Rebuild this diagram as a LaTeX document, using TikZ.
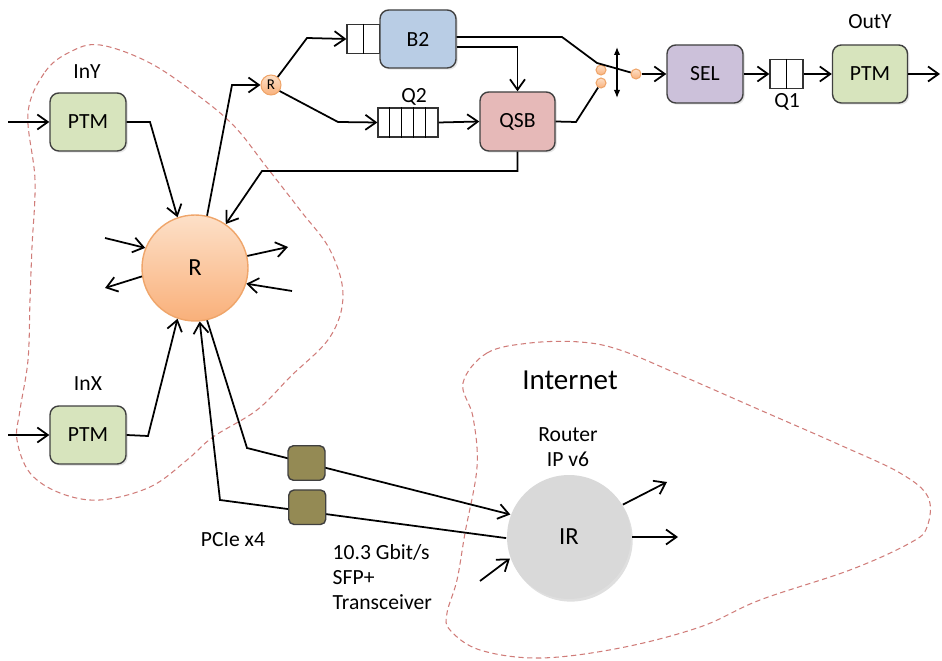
\documentclass[tikz,border=0pt]{standalone}
\usepackage{fontspec}
\setmainfont{Carlito}
\usetikzlibrary{calc,arrows.meta,shadows}

\definecolor{ptmgreen}{HTML}{D7E4BD}
\definecolor{b2blue}{HTML}{B9CDE5}
\definecolor{qsbred}{HTML}{E6B9B8}
\definecolor{selviolet}{HTML}{CCC1DA}
\definecolor{trxolive}{HTML}{948A54}
\definecolor{rtop}{HTML}{FDE0C8}
\definecolor{rbot}{HTML}{F9B07A}
\definecolor{rline}{HTML}{EFA56A}
\definecolor{irgray}{HTML}{D9D9D9}
\definecolor{cloudred}{HTML}{C0504D}

\begin{document}
\begin{tikzpicture}[x=0.02cm,y=-0.02cm,line width=1pt,>={Straight Barb[length=2.1mm,width=3mm]},
  font=\fontsize{12.3}{14.2}\selectfont,
  blk/.style={draw=black!75,line width=0.8pt,rounded corners=5pt,minimum width=1.52cm,minimum height=1.16cm,
    drop shadow={shadow xshift=1pt,shadow yshift=-1pt,opacity=0.2}},
  que/.style={draw=black!80,line width=0.7pt,fill=white,minimum height=0.58cm,inner sep=0pt},
  ball/.style={circle,draw=rline,line width=0.6pt,top color=rtop,bottom color=rbot,inner sep=0pt},
  trx/.style={draw=black!75,line width=0.8pt,rounded corners=3pt,fill=trxolive,minimum width=0.74cm,minimum height=0.69cm,inner sep=0pt},
  cloud/.style={draw=cloudred!75,line width=0.6pt,dash pattern=on 3pt off 2pt}]
  \useasboundingbox (0,0) rectangle (942,661);

  \draw[cloud] plot[smooth cycle,tension=0.6] coordinates {(28,113)(45,72)(70,52)(100,45)(150,63)(200,97)(235,127)(265,165)(300,210)
    (330,250)(343,295)(330,337)(290,377)(257,410)(213,437)(187,460)(150,487)(100,500)(60,493)(30,473)(17,440)(20,410)
    (28,360)(30,300)(32,247)(35,180)};
  \draw[cloud] plot[smooth cycle,tension=0.6] coordinates {(463,383)(487,353)(530,343)(580,342)(620,350)(680,375)(760,410)
    (840,445)(900,473)(928,497)(927,527)(910,543)(850,570)(760,600)(700,627)(620,648)(540,658)(480,650)(450,630)(447,613)
    (457,580)(465,533)(477,467)(473,417)};

  \node[blk,fill=ptmgreen] (ptmY) at (88,122) {PTM};
  \node (lInY) at (87,72) {InY};
  \node[blk,fill=ptmgreen] (ptmX) at (88,435) {PTM};
  \node (lInX) at (88,384) {InX};
  \node[ball,minimum size=2.12cm,line width=0.8pt,font=\fontsize{14}{16}\selectfont] (R) at (195,268) {R};
  \node[ball,minimum size=0.4cm,font=\fontsize{8.5}{9}\selectfont] (rs) at (271,85) {R};

  \node[que,minimum width=0.66cm] (qb2) at (363.5,39) {};
  \draw[line width=0.7pt] (qb2.north) -- (qb2.south);
  \node[blk,fill=b2blue] (b2) at (418,39) {B2};
  \node[que,minimum width=1.2cm] (q2) at (408,122.5) {};
  \foreach \i in {1,...,4}
    \draw[line width=0.7pt] ($(q2.north west)+(12*\i,0)$) -- ($(q2.south west)+(12*\i,0)$);
  \node (lQ2) at (414,97) {Q2};
  \node[blk,fill=qsbred,minimum width=1.5cm,minimum height=1.18cm] (qsb) at (517.5,121.5) {QSB};

  \node[ball,minimum size=0.2cm] (d1) at (601,70) {};
  \node[ball,minimum size=0.2cm] (d2) at (601,83) {};
  \node[ball,minimum size=0.2cm] (d3) at (636,74) {};
  \node[blk,fill=selviolet] (sel) at (705,74) {SEL};
  \node[que,minimum width=0.66cm] (q1) at (786.5,74) {};
  \draw[line width=0.7pt] (q1.north) -- (q1.south);
  \node (lQ1) at (787,102) {Q1};
  \node[blk,fill=ptmgreen,minimum width=1.5cm] (ptmO) at (870,74) {PTM};
  \node (lOutY) at (870,22) {OutY};

  \node[circle,fill=irgray,minimum size=2.48cm,font=\fontsize{14}{16}\selectfont,
    drop shadow={shadow xshift=1pt,shadow yshift=-1.5pt,opacity=0.25}] (IR) at (569,537) {IR};
  \node[align=center] (lRouter) at (568,447) {Router\\IP v6};
  \node[font=\fontsize{16.5}{19}\selectfont] (lNet) at (570,380) {Internet};
  \node (lPci) at (233,540) {PCIe x4};
  \node[align=left,anchor=west] (lTrx) at (326,577) {10.3 Gbit/s\\SFP+\\Transceiver};

  \coordinate (inY) at (8,122);
  \coordinate (kY) at (150,122);
  \coordinate (kRs) at (232,85);
  \coordinate (kB2) at (307,38);
  \coordinate (kQ2) at (338,122);
  \coordinate (kUp) at (562,37);
  \coordinate (sw) at (597,63);
  \coordinate (kLow) at (576,122);
  \coordinate (swT) at (617,47);
  \coordinate (swB) at (617,98);
  \coordinate (outY) at (940,74);
  \coordinate (kFb) at (262,171);
  \coordinate (inX) at (8,435);
  \coordinate (kX) at (148,436);
  \coordinate (kT1) at (247,448);
  \coordinate (kT2) at (220,500);
  \coordinate (sA) at (105,238);
  \coordinate (sB) at (105,288);
  \coordinate (sC) at (288,247);
  \coordinate (sD) at (292,291);
  \coordinate (iA) at (667,482);
  \coordinate (iB) at (678,537);
  \coordinate (iC) at (480,581);

  \draw[->] (inY) -- (ptmY.west);
  \draw[->] (ptmY.east) -- (kY) -- (R.109);
  \draw[->] (R.77) -- (kRs) -- (rs.west);
  \draw[->] (rs.50) -- (kB2) -- (qb2.west);
  \draw[->] (rs.-35) -- (kQ2) -- (q2.west);
  \draw[->] (q2.east) -- (qsb.west);
  \draw[->] ($(b2.east)+(0,8)$) -| (qsb.north);
  \draw ($(b2.east)+(0,-2)$) -- (kUp) -- (sw) -- (d3);
  \draw (qsb.east) -- (kLow) -- (d2);
  \draw[{Latex[length=1.6mm,width=1.3mm]}-{Latex[length=1.6mm,width=1.3mm]},line width=0.8pt] (swT) -- (swB);
  \draw[->] (d3) -- (sel.west);
  \draw[->] (sel.east) -- (q1.west);
  \draw[->] (q1.east) -- (ptmO.west);
  \draw[->] (ptmO.east) -- (outY);
  \draw[->] (qsb.south) |- (kFb) -- (R.55);

  \draw[->] (sA) -- (R.158);
  \draw[->] (R.189) -- (sB);
  \draw[->] (R.13) -- (sC);
  \draw[->] (sD) -- (R.-17);

  \draw[->] (inX) -- (ptmX.west);
  \draw[->] (ptmX.east) -- (kX) -- (R.-109);
  \draw[->] (R.-77) -- (kT1) -- node[trx,pos=0.226] (t1) {} (IR.159);
  \draw[->] (IR.181) -- node[trx,pos=0.695,yshift=2.5pt] (t2) {} (kT2) -- (R.-85);

  \draw[->] (IR.31) -- (iA);
  \draw[->] (IR.0) -- (iB);
  \draw[->] (iC) -- (IR.200);
\end{tikzpicture}
\end{document}
